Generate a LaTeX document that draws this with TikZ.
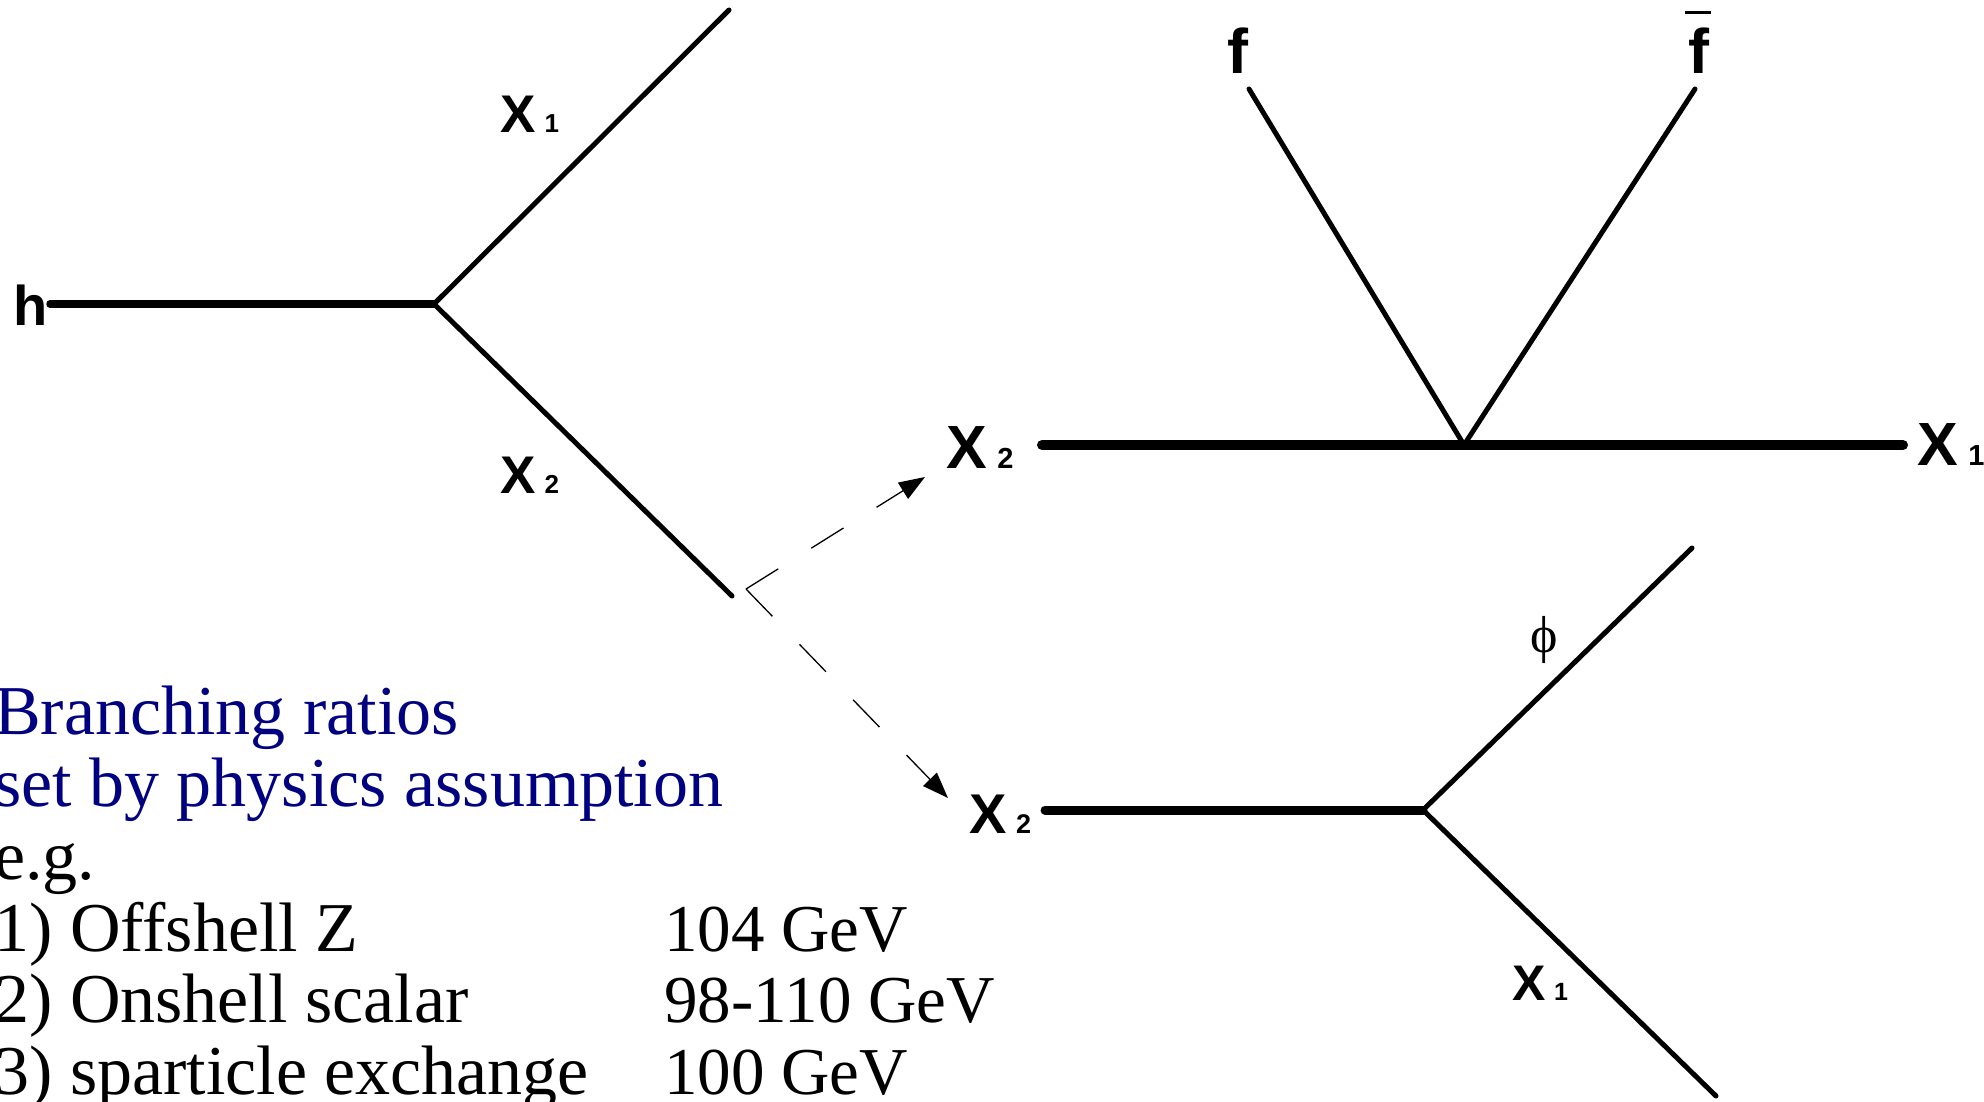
\documentclass[tikz,border=0pt]{standalone}
\usepackage{fontspec}
\setmainfont{Liberation Serif}
\setsansfont{Liberation Sans}
\usetikzlibrary{arrows.meta}
\definecolor{navy}{RGB}{0,0,128}
% particle name with a small index set on the same baseline
\newcommand\ptclX[3]{\fontsize{#1}{#1}\selectfont X\hspace{0.17em}{\fontsize{#2}{#2}\selectfont #3}}
\begin{document}
\begin{tikzpicture}[x=1pt,y=-1pt,
  prop/.style={line width=5pt, line cap=round},
  heavy/.style={line width=8.5pt, line cap=round},
  flow/.style={line width=1.3pt, dash pattern=on 38pt off 39pt,
    -{Triangle[length=26pt,width=19pt]}},
  lbl/.style={inner sep=0pt, anchor=base west, font=\sffamily\bfseries},
  txt/.style={inner sep=0pt, anchor=base west, font=\fontsize{70}{72}\selectfont},
  num/.style={inner sep=0pt, anchor=base west, font=\fontsize{67}{72}\selectfont},
]
\useasboundingbox (0,0) rectangle (1984,1102);

% ---- h -> X1 X2 decay
\coordinate (hv) at (434,304);
\coordinate (hend) at (50,304);
\coordinate (up1) at (729,10);
\coordinate (dn2) at (732,596);
\node[lbl] (hlab) at (13,325) {\fontsize{56}{56}\selectfont h};
\node[lbl] (x1a) at (500,133) {\ptclX{53}{26}{1}};
\node[lbl] (x2a) at (500,493) {\ptclX{53}{26}{2}};
\draw[heavy, line width=7.5pt] (hend) -- (hv);
\draw[prop] (hv) -- (up1);
\draw[prop] (hv) -- (dn2);

% ---- the two decay channels of X2
\coordinate (split) at (746,589);
\coordinate (tipA) at (925,477);
\coordinate (tipB) at (948,798);
\draw[flow] (split) -- (tipA);
\draw[flow] (split) -- (tipB);

% ---- X2 -> X1 f fbar
\coordinate (va) at (1464,445);
\coordinate (aL) at (1042,445);
\coordinate (aR) at (1903,445);
\coordinate (fA) at (1249,89);
\coordinate (fB) at (1695,89);
\node[lbl] (x2b) at (946,468) {\ptclX{61}{29}{2}};
\node[lbl] (x1b) at (1917,465) {\ptclX{61}{29}{1}};
\node[lbl] (flab) at (1227,74) {\fontsize{63}{63}\selectfont f};
\node[lbl] (fbarlab) at (1688,74) {\fontsize{63}{63}\selectfont\makebox[0pt][l]{\hspace{-3pt}\raisebox{60pt}{\rule{26pt}{3pt}}}f};
\draw[heavy, line width=10pt] (aL) -- (aR);
\draw[prop] (fA) -- (va);
\draw[prop] (fB) -- (va);

% ---- X2 -> X1 phi
\coordinate (vb) at (1423,810);
\coordinate (bL) at (1045,810);
\coordinate (bU) at (1692,548);
\coordinate (bD) at (1716,1096);
\node[lbl] (x2c) at (969,833) {\ptclX{56}{27}{2}};
\node[lbl] (x1c) at (1512,1000) {\ptclX{50}{25}{1}};
\node[inner sep=0pt] (philab) at (1544,640) {\fontsize{52}{52}\selectfont ϕ};
\draw[heavy, line width=9pt] (bL) -- (vb);
\draw[prop] (vb) -- (bU);
\draw[prop] (vb) -- (bD);

% ---- notes
\node[txt, text=navy] (n1) at (-6,734) {Branching ratios};
\node[txt, text=navy] (n2) at (-6,806) {set by physics assumption};
\node[txt] (n3) at (-6,879) {e.g.};
\node[txt] (n4) at (-6,951) {1) Offshell Z};
\node[txt] (n5) at (-6,1022) {2) Onshell scalar};
\node[txt] (n6) at (-6,1094) {3) sparticle exchange};
\node[num] (m4) at (664,951) {104 GeV};
\node[num] (m5) at (664,1022) {98-110 GeV};
\node[num] (m6) at (664,1094) {100 GeV};
\end{tikzpicture}
\end{document}
